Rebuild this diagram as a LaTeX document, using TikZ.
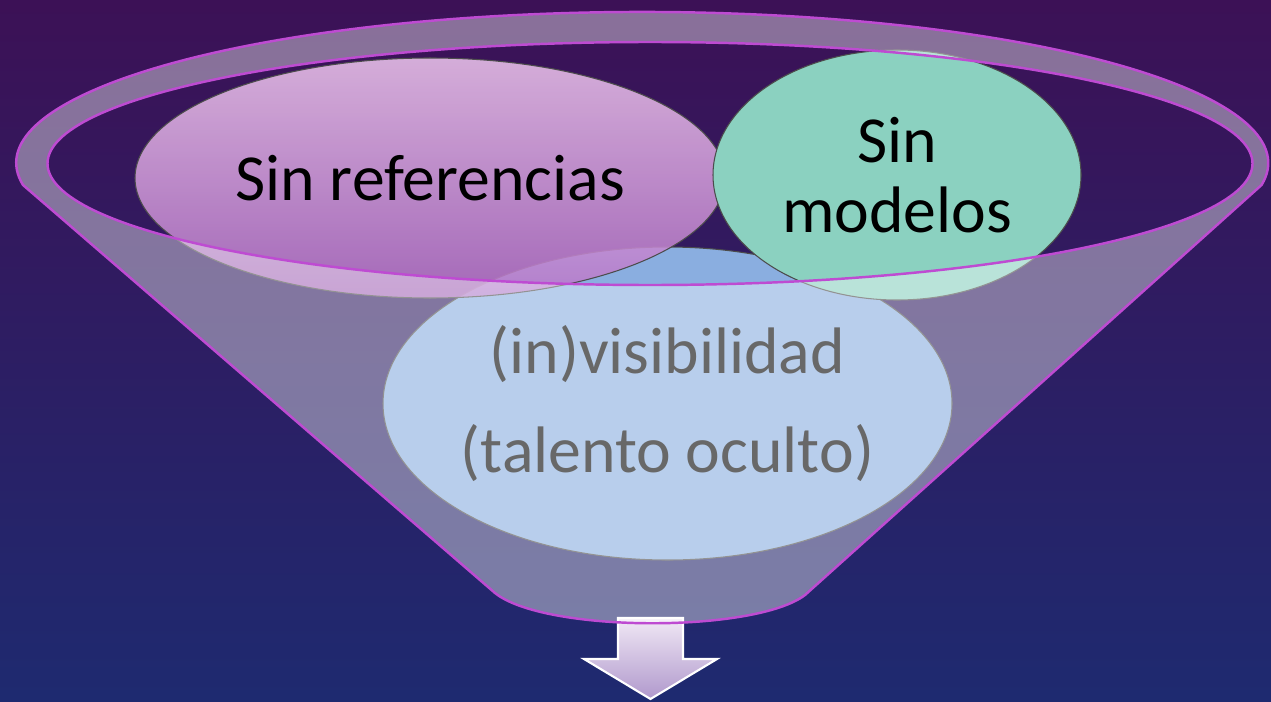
\documentclass[tikz,border=0pt]{standalone}
\usepackage{fontspec}
\setmainfont{Carlito}
\usetikzlibrary{shapes.geometric}
\definecolor{skytop}{RGB}{60,17,86}
\definecolor{skymid}{RGB}{44,28,104}
\definecolor{skybot}{RGB}{30,42,112}
\definecolor{funnelpink}{RGB}{190,75,210}
\definecolor{reftop}{RGB}{240,200,240}
\definecolor{refbot}{RGB}{185,118,200}
\definecolor{modteal}{RGB}{139,209,192}
\definecolor{visblue}{RGB}{138,174,224}
\definecolor{visgrey}{RGB}{104,104,104}
\definecolor{arrowtop}{RGB}{240,232,245}
\definecolor{arrowbot}{RGB}{176,152,204}
\tikzset{
	blob/.style={ellipse, draw=gray!60!black, line width=0.3pt, inner sep=0pt}, % the three ellipses
	bigtext/.style={font=\fontsize{18.7}{19.9}\selectfont, align=center}, % text inside the ellipses
	funnel/.style={fill=white, fill opacity=0.4, draw=funnelpink, line width=0.7pt, even odd rule}, % see-through funnel
}
\begin{document}
\begin{tikzpicture}
	% Background
	\useasboundingbox (0,0) rectangle (12.71,7.01);
	\shade[top color=skytop, middle color=skymid, bottom color=skybot] (0,0) rectangle (12.71,7.01);

	% Arrow under the funnel
	\shade[top color=arrowtop, bottom color=arrowbot, draw=white, line width=0.6pt]
	(6.18,0.83) -- (6.83,0.83) -- (6.83,0.42) -- (7.17,0.42) -- (6.505,0.02) -- (5.84,0.42) -- (6.18,0.42) -- cycle;

	% Define the ellipses
	\node[blob, fill=visblue, minimum width=5.69cm, minimum height=3.13cm] (vis) at (6.675,2.975) {};
	\node[blob, bigtext, top color=reftop, bottom color=refbot, fill opacity=0.85, text opacity=1,
		minimum width=5.90cm, minimum height=2.40cm] (ref) at (4.30,5.23) {Sin referencias};
	\node[blob, bigtext, fill=modteal, minimum width=3.68cm, minimum height=2.50cm] (mod) at (8.97,5.26) {Sin\\modelos};

	% Funnel: rim and body, open inside
	\path[funnel]
	(0.23,5.16) arc[start angle=188.4, end angle=-8.4, x radius=6.26, y radius=1.51]
	-- (8.05,1.06) .. controls (7.55,0.68) and (5.45,0.68) .. (4.95,1.08) -- cycle
	(6.50,5.375) ellipse[x radius=6.025, y radius=1.215];

	% Text of the lower ellipse
	\node[bigtext, font=\fontsize{18.7}{27.9}\selectfont, text=visgrey] (vistext) at (vis) {(in)visibilidad\\(talento oculto)};
\end{tikzpicture}
\end{document}
